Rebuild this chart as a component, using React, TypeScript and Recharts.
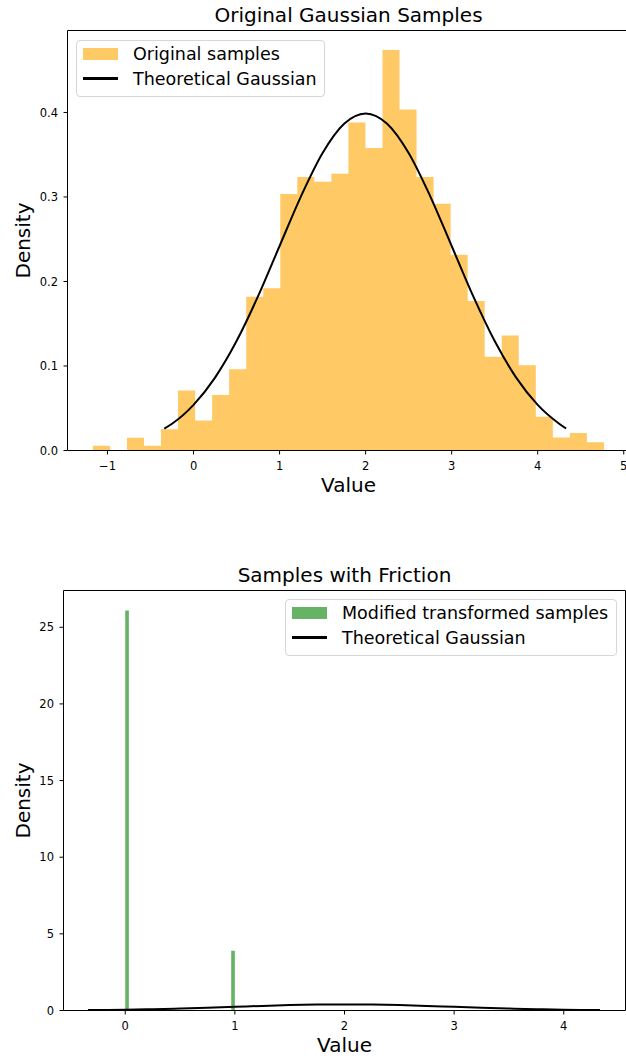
import React from 'react';
import { ComposedChart, Area, Line, XAxis, YAxis, ReferenceLine } from 'recharts';

const FONT = '"DejaVu Sans", "Liberation Sans", sans-serif';

// ---------- Data ----------
// Top histogram: bin edges and densities
const topBinEdges = [
  -1.17, -0.972, -0.774, -0.576, -0.378, -0.18, 0.018, 0.216, 0.414, 0.612, 0.81,
  1.008, 1.206, 1.404, 1.602, 1.8, 1.998, 2.196, 2.394, 2.592, 2.79, 2.988, 3.186,
  3.384, 3.582, 3.78, 3.978, 4.176, 4.374, 4.572, 4.77,
];
const topDensity = [
  0.0055, 0, 0.0152, 0.0055, 0.025, 0.071, 0.0356, 0.0657, 0.096, 0.182, 0.192,
  0.3035, 0.3236, 0.318, 0.3276, 0.388, 0.358, 0.474, 0.4036, 0.3236, 0.292,
  0.2315, 0.177, 0.111, 0.136, 0.101, 0.04, 0.0154, 0.0206, 0.0099,
];

// Bottom histogram: bin edges and densities
const bottomBinEdges = [
  0, 0.0333, 0.0667, 0.1, 0.1333, 0.1667, 0.2, 0.2333, 0.2667, 0.3, 0.3333,
  0.3667, 0.4, 0.4333, 0.4667, 0.5, 0.5333, 0.5667, 0.6, 0.6333, 0.6667, 0.7,
  0.7333, 0.7667, 0.8, 0.8333, 0.8667, 0.9, 0.9333, 0.9667, 1.0,
];
const bottomDensity = [
  26.1, 0, 0, 0, 0, 0, 0, 0, 0, 0, 0, 0, 0, 0, 0, 0, 0, 0, 0, 0, 0, 0, 0, 0, 0,
  0, 0, 0, 0, 3.9,
];

// Theoretical Gaussian curve
const gaussX = [
  -0.34, -0.25, 0, 0.25, 0.5, 0.75, 1, 1.25, 1.5, 1.75, 2, 2.25, 2.5, 2.75, 3,
  3.25, 3.5, 3.75, 4, 4.25, 4.33,
];
const gaussY = [
  0.026, 0.0317, 0.054, 0.0863, 0.1295, 0.1826, 0.242, 0.3011, 0.3521, 0.3867,
  0.3989, 0.3867, 0.3521, 0.3011, 0.242, 0.1826, 0.1295, 0.0863, 0.054, 0.0317,
  0.026,
];

// Ticks
const topXTicks = [-1, 0, 1, 2, 3, 4, 5];
const topYTicks = [0, 0.1, 0.2, 0.3, 0.4];
const bottomXTicks = [0, 1, 2, 3, 4];
const bottomYTicks = [0, 5, 10, 15, 20, 25];

// Axis ranges
const topXDomain = [-1.465, 5.067];
const topYDomain = [0, 0.497];
const bottomXDomain = [-0.563, 4.563];
const bottomYDomain = [0, 27.4];

// Labels
const topTitle = 'Original Gaussian Samples';
const bottomTitle = 'Samples with Friction';
const xLabel = 'Value';
const yLabel = 'Density';
const topLegend = ['Original samples', 'Theoretical Gaussian'];
const bottomLegend = ['Modified transformed samples', 'Theoretical Gaussian'];

// ---------- Derived tables ----------
const stepData = (edges: number[], dens: number[]) =>
  edges.map((x, i) => ({ x, d: dens[Math.min(i, dens.length - 1)] }));
const topHist = stepData(topBinEdges, topDensity);
const bottomHist = stepData(bottomBinEdges, bottomDensity);
const gaussData = gaussX.map((x, i) => ({ x, y: gaussY[i] }));

const fmtMinus = (v: number) => (v < 0 ? '\u2212' + Math.abs(v) : String(v));

const tickStyle = { fill: '#000', fontSize: 11.5, fontFamily: FONT };
const axisLine = { stroke: '#000', strokeWidth: 1 };

const Legend = ({
  left,
  top,
  width,
  color,
  labels,
}: {
  left: number;
  top: number;
  width: number;
  color: string;
  labels: string[];
}) => (
  <div
    style={{
      position: 'absolute',
      left,
      top,
      width,
      height: 57,
      boxSizing: 'border-box',
      border: '1px solid #d6d6d6',
      borderRadius: 4,
      background: 'rgba(255,255,255,0.8)',
      fontFamily: FONT,
      fontSize: 17.5,
      color: '#000',
    }}
  >
    <div style={{ height: 25, display: 'flex', alignItems: 'center' }}>
      <div
        style={{
          marginLeft: 6,
          width: 35,
          height: 12,
          background: color,
          opacity: 0.6,
        }}
      />
      <span style={{ marginLeft: 15, whiteSpace: 'nowrap' }}>{labels[0]}</span>
    </div>
    <div style={{ height: 25, display: 'flex', alignItems: 'center' }}>
      <div
        style={{ marginLeft: 6, width: 35, height: 2.2, background: '#000' }}
      />
      <span style={{ marginLeft: 15, whiteSpace: 'nowrap' }}>{labels[1]}</span>
    </div>
  </div>
);

const Title = ({ cx, top, text }: { cx: number; top: number; text: string }) => (
  <div
    style={{
      position: 'absolute',
      left: cx - 250,
      width: 500,
      top,
      textAlign: 'center',
      fontFamily: FONT,
      fontSize: 20,
      lineHeight: '20px',
      color: '#000',
      whiteSpace: 'nowrap',
    }}
  >
    {text}
  </div>
);

export default function App() {
  return (
    <div
      style={{
        position: 'absolute',
        left: 0,
        top: 0,
        width: 626,
        height: 1059,
        overflow: 'hidden',
        background: '#fff',
      }}
    >
      {/* Top chart */}
      <div style={{ position: 'absolute', left: 0, top: 0 }}>
        <ComposedChart
          width={636}
          height={500.5}
          margin={{ top: 30.5, right: 6.5, bottom: 0, left: 0 }}
        >
          <XAxis
            dataKey="x"
            type="number"
            domain={topXDomain}
            allowDataOverflow
            ticks={topXTicks}
            tickFormatter={fmtMinus}
            tick={tickStyle}
            tickSize={4}
            tickMargin={7}
            tickLine={axisLine}
            axisLine={axisLine}
            height={50}
            label={{
              value: xLabel,
              position: 'insideBottom',
              offset: 8.5,
              fill: '#000',
              fontSize: 20,
              fontFamily: FONT,
            }}
          />
          <YAxis
            type="number"
            domain={topYDomain}
            allowDataOverflow
            ticks={topYTicks}
            tickFormatter={(v: number) => v.toFixed(1)}
            tick={tickStyle}
            tickSize={4}
            tickMargin={5.5}
            tickLine={axisLine}
            axisLine={axisLine}
            width={67.5}
            label={{
              value: yLabel,
              angle: -90,
              position: 'insideLeft',
              offset: 23,
              fill: '#000',
              fontSize: 20,
              fontFamily: FONT,
              style: { textAnchor: 'middle' },
            }}
          />
          <Area
            data={topHist}
            dataKey="d"
            type="stepAfter"
            fill="#FFA500"
            fillOpacity={0.6}
            stroke="none"
            dot={false}
            activeDot={false}
            isAnimationActive={false}
          />
          <Line
            data={gaussData}
            dataKey="y"
            type="monotone"
            stroke="#000"
            strokeWidth={2}
            dot={false}
            activeDot={false}
            isAnimationActive={false}
          />
          <ReferenceLine y={topYDomain[1]} stroke="#000" strokeWidth={1} ifOverflow="visible" />
          <ReferenceLine x={topXDomain[1]} stroke="#000" strokeWidth={1} ifOverflow="visible" />
        </ComposedChart>
      </div>
      <Title cx={348.5} top={5} text={topTitle} />
      <Legend left={76} top={40} width={249} color="#FFA500" labels={topLegend} />

      {/* Bottom chart */}
      <div style={{ position: 'absolute', left: 0, top: 560 }}>
        <ComposedChart
          width={634}
          height={500.5}
          margin={{ top: 30.5, right: 8.5, bottom: 0, left: 0 }}
        >
          <XAxis
            dataKey="x"
            type="number"
            domain={bottomXDomain}
            allowDataOverflow
            ticks={bottomXTicks}
            tickFormatter={fmtMinus}
            tick={tickStyle}
            tickSize={4}
            tickMargin={7}
            tickLine={axisLine}
            axisLine={axisLine}
            height={50}
            label={{
              value: xLabel,
              position: 'insideBottom',
              offset: 8.5,
              fill: '#000',
              fontSize: 20,
              fontFamily: FONT,
            }}
          />
          <YAxis
            type="number"
            domain={bottomYDomain}
            allowDataOverflow
            ticks={bottomYTicks}
            tick={tickStyle}
            tickSize={4}
            tickMargin={5.5}
            tickLine={axisLine}
            axisLine={axisLine}
            width={63.5}
            label={{
              value: yLabel,
              angle: -90,
              position: 'insideLeft',
              offset: 23,
              fill: '#000',
              fontSize: 20,
              fontFamily: FONT,
              style: { textAnchor: 'middle' },
            }}
          />
          <Area
            data={bottomHist}
            dataKey="d"
            type="stepAfter"
            fill="#008000"
            fillOpacity={0.6}
            stroke="none"
            dot={false}
            activeDot={false}
            isAnimationActive={false}
          />
          <Line
            data={gaussData}
            dataKey="y"
            type="monotone"
            stroke="#000"
            strokeWidth={2}
            dot={false}
            activeDot={false}
            isAnimationActive={false}
          />
          <ReferenceLine y={bottomYDomain[1]} stroke="#000" strokeWidth={1} ifOverflow="visible" />
          <ReferenceLine x={bottomXDomain[1]} stroke="#000" strokeWidth={1} ifOverflow="visible" />
        </ComposedChart>
      </div>
      <Title cx={344.5} top={565} text={bottomTitle} />
      <Legend
        left={285}
        top={599}
        width={332}
        color="#008000"
        labels={bottomLegend}
      />
    </div>
  );
}
